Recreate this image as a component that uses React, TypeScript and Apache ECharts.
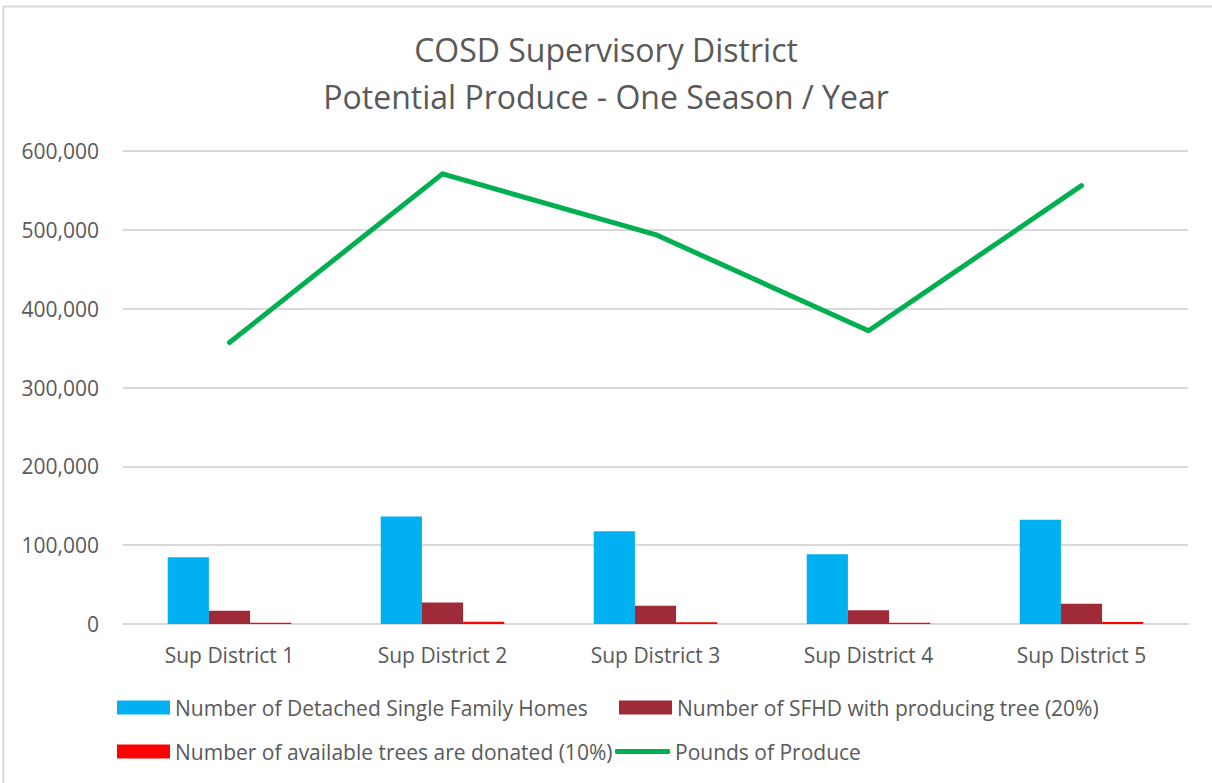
import React, { useEffect, useRef } from "react";
import * as echarts from "echarts";

const categories = ["Sup District 1", "Sup District 2", "Sup District 3", "Sup District 4", "Sup District 5"];
const homes = [84600, 136400, 117700, 88400, 132100];
const producing = [16900, 27300, 23300, 17300, 25800];
const donated = [1690, 2730, 2330, 1730, 2580];
const pounds = [357000, 571000, 494000, 372000, 556000];
const yTicks = [0, 100000, 200000, 300000, 400000, 500000, 600000];
const titleLines = ["COSD Supervisory District", "Potential Produce - One Season / Year"];

const seriesNames = [
  "Number of Detached Single Family Homes",
  "Number of SFHD with producing tree (20%)",
  "Number of available trees are donated (10%)",
  "Pounds of Produce",
];

const FONT = "'Open Sans', sans-serif";
const GREY = "#595959";

export default function App() {
  const ref = useRef<HTMLDivElement>(null);
  useEffect(() => {
    if (!ref.current) return;
    const chart = echarts.init(ref.current, undefined, { renderer: "svg" });
    const legendText = { color: GREY, fontSize: 21, fontFamily: FONT };
    const titleStyle = { color: GREY, fontSize: 32, fontWeight: "normal", fontFamily: FONT };
    chart.setOption({
      animation: false,
      backgroundColor: "#fff",
      textStyle: { fontFamily: FONT },
      title: [
        { text: titleLines[0], left: "center", top: 33, padding: 0, textStyle: titleStyle },
        { text: titleLines[1], left: "center", top: 80, padding: 0, textStyle: titleStyle },
      ],
      graphic: [
        {
          type: "rect",
          shape: { x: 3.5, y: 6.5, width: 1220, height: 800 },
          style: { fill: "none", stroke: "#D9D9D9", lineWidth: 2 },
          silent: true,
        },
      ],
      grid: { left: 123, right: 24, top: 151, bottom: 159, containLabel: false },
      legend: [
        { left: 117, top: 697, padding: 0, itemWidth: 53, itemHeight: 14, icon: "rect", data: [seriesNames[0]], textStyle: legendText },
        { left: 619, top: 697, padding: 0, itemWidth: 53, itemHeight: 14, icon: "rect", data: [seriesNames[1]], textStyle: legendText },
        { left: 117, top: 741, padding: 0, itemWidth: 53, itemHeight: 14, icon: "rect", data: [seriesNames[2]], textStyle: legendText },
        { left: 615, top: 741, padding: 0, itemWidth: 55, itemHeight: 5, icon: "roundRect", data: [seriesNames[3]], textStyle: legendText },
      ],
      xAxis: {
        type: "category",
        data: categories,
        axisLine: { lineStyle: { color: "#D9D9D9", width: 2 } },
        axisTick: { show: false },
        axisLabel: { color: GREY, fontSize: 21, fontFamily: FONT, margin: 20 },
      },
      yAxis: {
        type: "value",
        min: 0,
        max: yTicks[yTicks.length - 1],
        interval: 100000,
        axisLine: { show: false },
        axisTick: { show: false },
        splitLine: { lineStyle: { color: "#D9D9D9", width: 2 } },
        axisLabel: {
          color: GREY,
          fontSize: 21,
          fontFamily: FONT,
          margin: 24,
          formatter: (v: number) => v.toLocaleString("en-US"),
        },
      },
      series: [
        { name: seriesNames[0], type: "bar", data: homes, itemStyle: { color: "#00B0F0" }, barGap: "0%", barCategoryGap: "42%" },
        { name: seriesNames[1], type: "bar", data: producing, itemStyle: { color: "#A02B38" }, barGap: "0%", barCategoryGap: "42%" },
        { name: seriesNames[2], type: "bar", data: donated, itemStyle: { color: "#FF0000" }, barGap: "0%", barCategoryGap: "42%" },
        {
          name: seriesNames[3],
          type: "line",
          data: pounds,
          showSymbol: false,
          symbol: "none",
          itemStyle: { color: "#00B050" },
          lineStyle: { color: "#00B050", width: 5, cap: "round", join: "round" },
        },
      ],
    });
    return () => chart.dispose();
  }, []);
  return <div ref={ref} style={{ position: "absolute", left: 0, top: 0, width: 1212, height: 783 }} />;
}
